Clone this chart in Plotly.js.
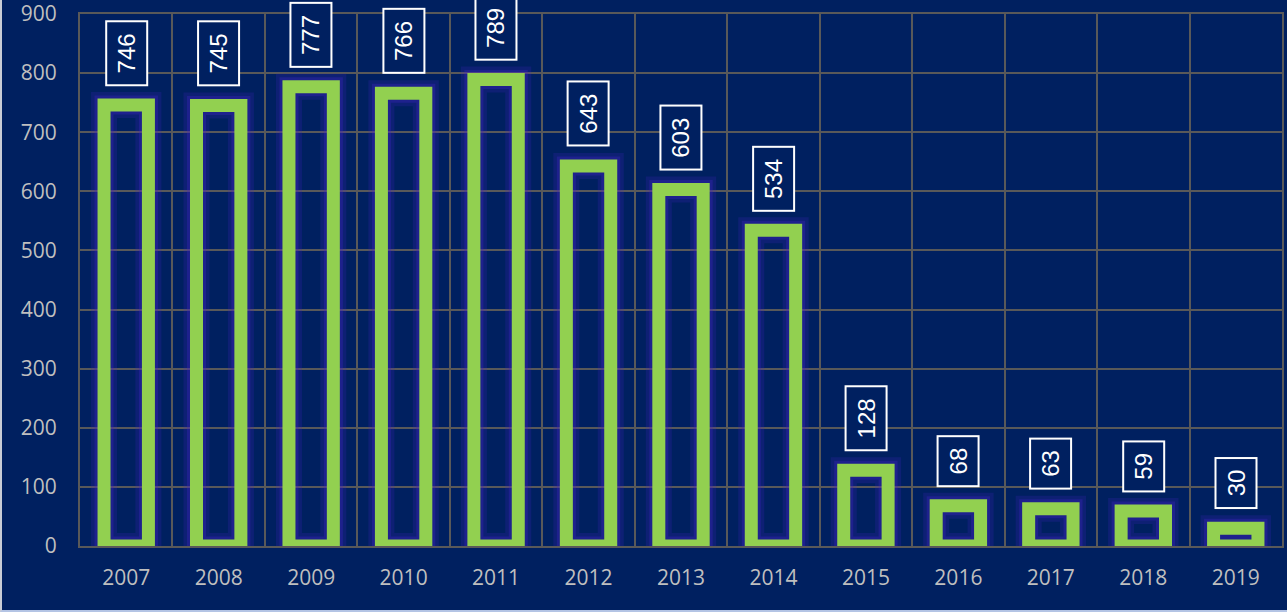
<!DOCTYPE html>
<html>
<head>
<meta charset="utf-8">
<script src="https://cdn.plot.ly/plotly-3.0.1.min.js"></script>
<style>
  html, body { margin: 0; padding: 0; background: #002060; }
  #wrap { position: relative; width: 1287px; height: 612px; }
  #chart { width: 1287px; height: 612px; }
  #wrap::after { content: ''; position: absolute; left: 0; top: 0; right: 0; bottom: 0;
    border-left: 2px solid #c9ccd6; border-bottom: 2px solid #b4c4e4; pointer-events: none; }
</style>
</head>
<body>
<div id="wrap"><div id="chart"></div></div>
<script>
const years = ['2007','2008','2009','2010','2011','2012','2013','2014','2015','2016','2017','2018','2019'];
const values = [746, 745, 777, 766, 789, 643, 603, 534, 128, 68, 63, 59, 30];
const idx = years.map((_, i) => i);

const BG = '#002060';
const GREEN = '#92D050';
const GRID = '#595959';
const BAR_W = 0.48;

const glowOuter = {
  type: 'bar', x: idx, y: values, width: BAR_W,
  marker: { color: 'rgba(0,0,0,0)', line: { color: 'rgba(70,35,200,0.2)', width: 26 } },
  hoverinfo: 'skip', showlegend: false
};
const glowInner = {
  type: 'bar', x: idx, y: values, width: BAR_W,
  marker: { color: 'rgba(0,0,0,0)', line: { color: 'rgba(70,35,200,0.3)', width: 19 } },
  hoverinfo: 'skip', showlegend: false
};
const bars = {
  type: 'bar', x: idx, y: values, width: BAR_W,
  marker: { color: 'rgba(0,0,0,0)', line: { color: GREEN, width: 13 } },
  showlegend: false
};

const annotations = values.map((v, i) => ({
  x: idx[i], y: v, xref: 'x', yref: 'y',
  text: '\u2009' + v + '\u2009',
  textangle: -90,
  showarrow: false,
  xanchor: 'center', yanchor: 'bottom',
  yshift: 19,
  font: { family: 'Liberation Sans, Arial, sans-serif', size: 24, color: '#ffffff' },
  bordercolor: '#ffffff', borderwidth: 2, borderpad: 6,
  bgcolor: BG
}));

const layout = {
  width: 1287, height: 612,
  paper_bgcolor: BG, plot_bgcolor: BG,
  margin: { l: 80, r: 5, t: 14, b: 66 },
  barmode: 'overlay',
  bargap: 0,
  xaxis: {
    type: 'linear',
    range: [-0.5, years.length - 0.5],
    tickmode: 'array', tickvals: idx, ticktext: years,
    showgrid: false, zeroline: false,
    ticks: '', ticklabelstandoff: 12,
    ticklabeloverflow: 'allow',
    tickfont: { family: 'Open Sans, sans-serif', size: 21, color: '#BFBFBF' },
    minor: { tick0: -0.5, dtick: 1, showgrid: true, gridcolor: GRID, gridwidth: 2, ticks: '' },
    showline: true, linecolor: GRID, linewidth: 2, mirror: true,
    fixedrange: true
  },
  yaxis: {
    range: [0, 900], dtick: 100,
    showgrid: true, gridcolor: GRID, gridwidth: 2,
    zeroline: false,
    ticks: '', ticklabelstandoff: 17,
    ticklabeloverflow: 'allow',
    tickfont: { family: 'Open Sans, sans-serif', size: 21, color: '#BFBFBF' },
    showline: true, linecolor: GRID, linewidth: 2, mirror: true,
    fixedrange: true
  },
  annotations: annotations
};

Plotly.newPlot('chart', [glowOuter, glowInner, bars], layout, { displayModeBar: false, staticPlot: true });
</script>
</body>
</html>
